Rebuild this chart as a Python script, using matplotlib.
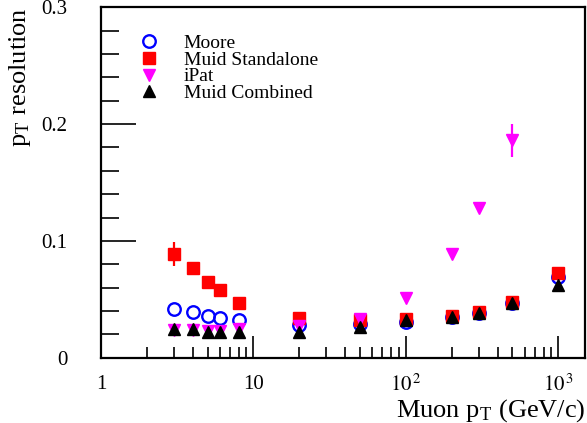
import numpy as np
import matplotlib.pyplot as plt
from matplotlib.ticker import FixedLocator

plt.rcParams['font.family'] = ['Liberation Serif', 'DejaVu Serif']
plt.rcParams['mathtext.fontset'] = 'stix'

# muon pT points (GeV/c)
pt = [3, 4, 5, 6, 8, 20, 50, 100, 200, 300, 500, 1000]

moore = [0.042, 0.039, 0.036, 0.034, 0.032, 0.028, 0.029, 0.031, 0.035, 0.038, 0.047, 0.069]

muid_sa = [0.089, 0.077, 0.065, 0.058, 0.047, 0.034, 0.032, 0.033, 0.036, 0.039, 0.048, 0.073]
muid_sa_err = [0.010, 0.004, 0.002, 0.001, 0.001, 0.001, 0.001, 0.001, 0.001, 0.001, 0.001, 0.002]

ipat = [0.024, 0.024, 0.023, 0.023, 0.025, 0.027, 0.033, 0.051, 0.089, 0.128, 0.186]
ipat_err = [0.002, 0.001, 0.001, 0.001, 0.001, 0.001, 0.001, 0.001, 0.002, 0.004, 0.014]

muid_cb = [0.025, 0.025, 0.022, 0.022, 0.022, 0.022, 0.026, 0.032, 0.035, 0.038, 0.047, 0.062]

ytick_vals = [0, 0.1, 0.2, 0.3]
ytick_labels = ['0', '0.1', '0.2', '0.3']
xtick_vals = [1, 10, 100, 1000]
xtick_labels = ['1', '10', r'$10^{\,2}$', r'$10^{\,3}$']

fig = plt.figure(figsize=(5.87, 4.23), dpi=100)
ax = fig.add_axes([0.172, 0.154, 0.825, 0.829])

# error bars first, markers on top
ax.errorbar(pt, muid_sa, yerr=muid_sa_err, fmt='none', ecolor='red', elinewidth=1.6)
ax.errorbar(pt[:len(ipat)], ipat, yerr=ipat_err, fmt='none', ecolor='magenta', elinewidth=1.6)

ax.plot(pt, moore, 'o', mfc='none', mec='blue', mew=1.7, ms=9, label='Moore')
ax.plot(pt, muid_sa, 's', color='red', ms=8.5, label='Muid Standalone')
ax.plot(pt[:len(ipat)], ipat, 'v', color='magenta', ms=8.5, label='iPat')
ax.plot(pt, muid_cb, '^', color='black', ms=8.5, label='Muid Combined')

ax.set_xscale('log')
ax.set_xlim(1, 1500)
ax.set_ylim(0, 0.3)

ax.xaxis.set_major_locator(FixedLocator(xtick_vals))
ax.set_xticklabels(xtick_labels)
ax.xaxis.set_minor_locator(FixedLocator([m * d for d in [1, 10, 100] for m in range(2, 10)]))
ax.yaxis.set_major_locator(FixedLocator(ytick_vals))
ax.set_yticklabels(ytick_labels)
ax.yaxis.set_minor_locator(FixedLocator(np.arange(0.02, 0.3, 0.02)))

ax.tick_params(axis='both', which='both', direction='in', top=False, right=False,
               labelsize=15, width=1.2)
ax.tick_params(axis='x', which='major', length=16, pad=12)
ax.tick_params(axis='x', which='minor', length=8)
ax.tick_params(axis='y', which='major', length=25, pad=24)
ax.tick_params(axis='y', which='minor', length=13)
for s in ax.spines.values():
    s.set_linewidth(1.6)

ax.set_xlabel(r'Muon p$_{\mathregular{T}}$ (GeV/c)', fontsize=19, loc='right', labelpad=1)
ax.set_ylabel(r'p$_{\mathregular{T}}$ resolution', fontsize=19, loc='top', labelpad=6)

ax.legend(loc='upper left', bbox_to_anchor=(0.05, 0.95), frameon=False, fontsize=14,
          handletextpad=1.0, labelspacing=-0.05, borderpad=0, handlelength=1.5)

fig.savefig('out.png', dpi=100)
